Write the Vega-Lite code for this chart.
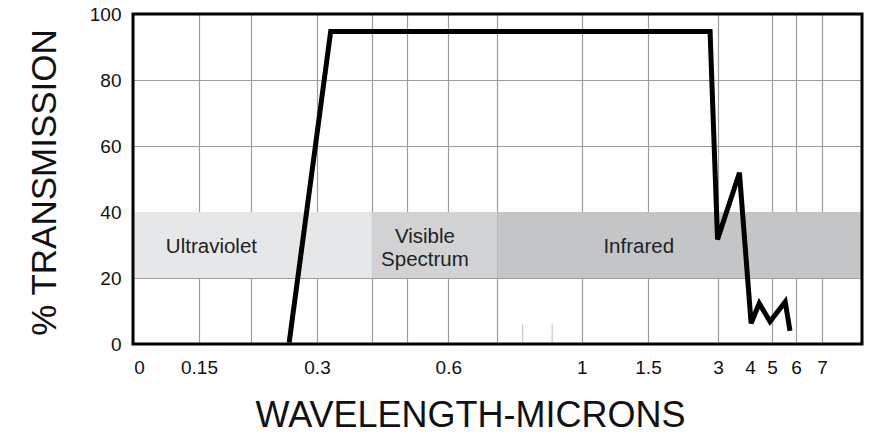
{
  "$schema": "https://vega.github.io/schema/vega-lite/v6.json",
  "width": 729,
  "height": 330,
  "autosize": {"type": "none"},
  "padding": {"left": 133, "top": 14, "right": 17, "bottom": 94},
  "background": "white",
  "config": {
    "view": {"stroke": null},
    "font": "Liberation Sans"
  },
  "datasets": {
    "bands": [
      {"band": "Ultraviolet", "x0": 0, "x1": 0.4, "y0": 20, "y1": 40},
      {"band": "Visible", "x0": 0.4, "x1": 0.8, "y0": 20, "y1": 40},
      {"band": "Infrared", "x0": 0.8, "x1": 8, "y0": 20, "y1": 40}
    ],
    "labels": [
      {"text": "Ultraviolet", "x": 0.162, "y": 29.5},
      {"text": "Visible\nSpectrum", "x": 0.543, "y": 32.3},
      {"text": "Infrared", "x": 1.43, "y": 29.3}
    ],
    "curve": [
      {"wl": 0.258, "t": 0.4},
      {"wl": 0.325, "t": 94.7},
      {"wl": 2.83, "t": 94.7},
      {"wl": 2.99, "t": 31.7},
      {"wl": 3.67, "t": 51.9},
      {"wl": 4.05, "t": 6.3},
      {"wl": 4.42, "t": 12.3},
      {"wl": 4.91, "t": 6.8},
      {"wl": 5.55, "t": 12.8},
      {"wl": 5.75, "t": 4}
    ],
    "stubs": [
      {"x": 0.86, "y0": 0, "y1": 6},
      {"x": 0.93, "y0": 0, "y1": 6}
    ]
  },
  "layer": [
    {
      "data": {"name": "bands"},
      "mark": {"type": "rect"},
      "encoding": {
        "x": {
          "field": "x0",
          "type": "quantitative",
          "scale": {
            "domain": [0, 0.15, 0.2, 0.3, 0.4, 0.5, 0.6, 0.8, 1, 1.5, 3, 4, 5, 6, 7, 8],
            "range": [0, 66, 117.7, 184, 238.7, 274.3, 315.3, 364.3, 448.7, 515, 585, 617, 639, 663, 689, 729],
            "zero": false,
            "nice": false
          },
          "axis": {
            "values": [0, 0.15, 0.2, 0.3, 0.4, 0.5, 0.6, 0.8, 1, 1.5, 3, 4, 5, 6, 7],
            "labelExpr": "indexof([0.2, 0.4, 0.5, 0.8], datum.value) >= 0 ? '' : toString(datum.value)",
            "grid": true,
            "gridColor": "#9d9d9d",
            "gridWidth": 1.2,
            "gridOpacity": {"condition": {"test": "datum.value === 0 || datum.value === 4", "value": 0}, "value": 1},
            "labelOffset": {"condition": {"test": "datum.value === 0", "value": 6}, "value": 0},
            "ticks": false,
            "domain": false,
            "labelFontSize": 19,
            "labelColor": "#111111",
            "labelPadding": 14,
            "labelFlush": false,
            "labelOverlap": false,
            "title": "WAVELENGTH-MICRONS",
            "titleFontSize": 36,
            "titleFontWeight": "normal",
            "titleColor": "#111111",
            "titleX": 337,
            "titleY": 82,
            "titleAlign": "center",
            "titleBaseline": "alphabetic"
          }
        },
        "x2": {"field": "x1"},
        "y": {
          "field": "y0",
          "type": "quantitative",
          "scale": {"domain": [0, 100], "nice": false},
          "axis": {
            "values": [0, 10, 20, 30, 40, 50, 60, 70, 80, 90, 100],
            "labelExpr": "datum.value % 20 === 0 ? datum.label : ''",
            "grid": true,
            "gridColor": "#9d9d9d",
            "gridWidth": 1.2,
            "ticks": false,
            "domain": false,
            "labelFontSize": 19,
            "labelColor": "#111111",
            "labelPadding": 12,
            "title": "% TRANSMISSION",
            "titleFontSize": 35,
            "titleFontWeight": "normal",
            "titleColor": "#111111",
            "titleX": -78,
            "titleY": 168,
            "titleAlign": "center",
            "titleBaseline": "alphabetic"
          }
        },
        "y2": {"field": "y1"},
        "color": {
          "field": "band",
          "type": "nominal",
          "scale": {"domain": ["Ultraviolet", "Visible", "Infrared"], "range": ["#e6e7e8", "#d1d2d4", "#c4c5c7"]},
          "legend": null
        }
      }
    },
    {
      "data": {"name": "stubs"},
      "mark": {"type": "rule", "color": "#c8c8c8", "strokeWidth": 1.2},
      "encoding": {
        "x": {"field": "x", "type": "quantitative"},
        "y": {"field": "y0", "type": "quantitative"},
        "y2": {"field": "y1"}
      }
    },
    {
      "data": {"name": "labels"},
      "mark": {"type": "text", "fontSize": 20.5, "color": "#222222", "align": "center", "baseline": "middle", "lineBreak": "\n", "lineHeight": 23},
      "encoding": {
        "x": {"field": "x", "type": "quantitative"},
        "y": {"field": "y", "type": "quantitative"},
        "text": {"field": "text", "type": "nominal"}
      }
    },
    {
      "data": {"name": "curve"},
      "mark": {"type": "line", "color": "black", "strokeWidth": 5, "strokeJoin": "miter"},
      "encoding": {
        "x": {"field": "wl", "type": "quantitative"},
        "y": {"field": "t", "type": "quantitative"}
      }
    },
    {
      "data": {"values": [{}]},
      "mark": {"type": "rect", "fill": null, "stroke": "black", "strokeWidth": 3},
      "encoding": {
        "x": {"datum": 0, "type": "quantitative"},
        "x2": {"datum": 8},
        "y": {"datum": 0, "type": "quantitative"},
        "y2": {"datum": 100}
      }
    }
  ]
}
